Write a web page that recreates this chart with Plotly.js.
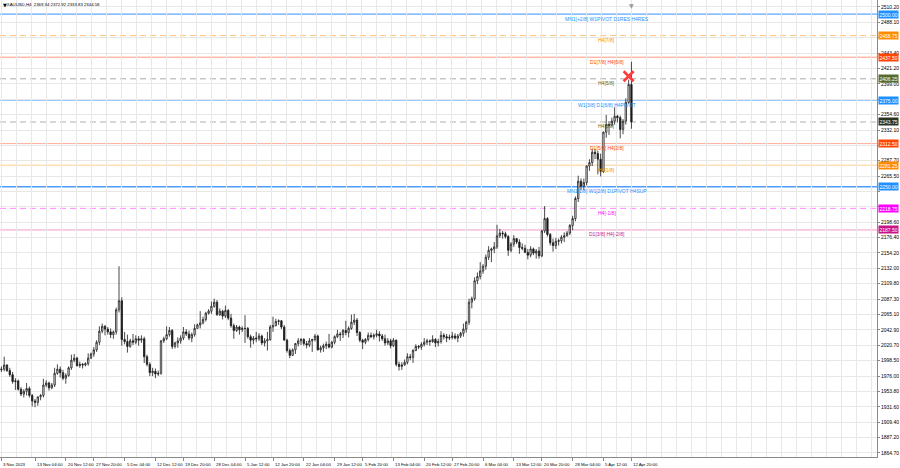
<!DOCTYPE html>
<html>
<head>
<meta charset="utf-8">
<script src="https://cdn.plot.ly/plotly-3.0.1.min.js"></script>
<style>html,body{margin:0;padding:0;background:#fff;}#chart{width:900px;height:468px;}</style>
</head>
<body>
<div id="chart"></div>
<script>
// XAUUSD H4 chart, candles aggregated to half-day bars (3 Nov 2023 .. 12 Apr 2024)
const openP = [
1985,1986,
1992,1984,1978,1968,1969,1957,1950,1954,1958,1948,
1940,1938,1946,1948,1963,1966,1959,1963,1980,1986,
1981,1973,1977,1988,1999,2002,1991,1993,1992,1994,
2002,2008,2014,2025,2041,2048,2044,2040,2036,2040,
2072,2085,2029,2026,2019,2027,2025,2030,2028,2030,
2004,1993,1981,1983,1979,1980,2027,2030,2036,2042,
2019,2024,2027,2031,2040,2037,2031,2036,2045,2050,
2053,2058,2067,2070,2077,2083,2065,2070,
2063,2071,2060,2049,2042,2047,2043,2045,
2045,2033,2028,2031,2030,2034,2024,2027,2029,2047,
2049,2055,2056,2047,2028,2013,2006,2014,2023,2027,
2029,2023,2021,2027,2029,2034,2014,2017,2020,2022,
2018,2025,2033,2037,2036,2042,2039,2045,2054,2057,
2039,2028,2025,2029,2035,2033,2035,2037,2034,2030,
2024,2027,2020,2028,1993,1990,1992,1996,2004,2003,
2013,2019,2018,2022,2025,2027,2026,2029,2024,2026,
2035,2033,2031,2032,2034,2031,2034,2038,2044,2054,
2083,2088,2114,2120,2128,2135,2148,2158,2160,2163,
2179,2183,2182,2178,2158,2167,2175,2170,2162,2161,
2155,2151,2160,2154,2157,2150,2186,2204,2181,2169,
2165,2171,2172,2177,2179,2183,2194,2204,
2233,2258,2251,2256,2280,2285,2300,2298,2290,2272,
2329,2340,2339,2345,2352,2350,2333,2345,2372,2398
];
const highP = [
1990,2004,
1993,1988,1982,1973,1971,1960,1957,1966,1961,1950,
1943,1946,1950,1972,1970,1968,1966,1988,1993,1990,
1985,1980,1990,2007,2008,2004,1997,1995,1996,2009,
2010,2018,2028,2048,2052,2050,2047,2045,2042,2075,
2135,2090,2040,2036,2030,2037,2035,2034,2035,2033,
2007,1996,1988,1987,1984,2028,2033,2048,2047,2044,
2026,2032,2035,2047,2044,2042,2039,2051,2052,2070,
2062,2069,2073,2084,2088,2086,2074,2072,
2078,2073,2066,2052,2050,2049,2048,2064,
2047,2036,2034,2040,2038,2036,2031,2040,2050,2062,
2059,2058,2057,2050,2030,2016,2016,2024,2031,2031,
2031,2027,2031,2030,2037,2036,2020,2023,2026,2037,
2027,2035,2043,2040,2044,2056,2048,2065,2066,2060,
2041,2030,2031,2039,2039,2038,2043,2041,2037,2036,
2031,2030,2031,2029,1997,1996,2000,2009,2008,2015,
2022,2021,2025,2031,2030,2029,2035,2031,2030,2041,
2038,2037,2036,2040,2038,2037,2040,2052,2056,2088,
2091,2119,2126,2141,2138,2152,2164,2162,2170,2195,
2189,2186,2185,2180,2170,2180,2175,2174,2168,2166,
2160,2164,2162,2160,2163,2188,2222,2206,2183,2175,
2176,2175,2180,2184,2186,2196,2208,2236,
2266,2262,2262,2281,2290,2305,2305,2302,2298,2330,
2354,2345,2350,2365,2354,2353,2348,2378,2405,2431
];
const lowP = [
1982,1983,
1982,1975,1965,1956,1955,1947,1945,1948,1945,1932,
1931,1933,1941,1945,1960,1955,1957,1960,1978,1974,
1970,1965,1975,1985,1996,1990,1988,1987,1990,1991,
2001,2004,2011,2021,2038,2035,2036,2031,2030,2036,
2068,2020,2022,2010,2017,2021,2022,2020,2024,1995,
1990,1976,1976,1973,1976,1978,2024,2028,2033,2015,
2016,2017,2023,2028,2034,2028,2025,2033,2045,2045,
2051,2055,2065,2066,2075,2063,2063,2058,
2060,2057,2046,2030,2040,2036,2040,2024,
2030,2017,2022,2025,2027,2021,2019,2013,2027,2040,
2048,2050,2044,2028,2010,2002,2005,2008,2019,2021,
2020,2016,2018,2011,2026,2013,2010,2011,2015,2016,
2016,2022,2031,2027,2031,2035,2032,2043,2050,2034,
2025,2015,2022,2026,2031,2029,2032,2026,2027,2020,
2021,2016,2018,1990,1984,1985,1991,1993,1999,1995,
2012,2015,2014,2019,2021,2020,2024,2018,2019,2023,
2029,2025,2028,2029,2029,2025,2031,2033,2039,2050,
2074,2085,2109,2116,2124,2130,2144,2141,2154,2160,
2176,2175,2175,2150,2155,2163,2167,2153,2158,2155,
2145,2148,2151,2146,2146,2148,2183,2178,2165,2156,
2160,2165,2168,2170,2178,2180,2187,2200,
2228,2245,2245,2252,2273,2280,2290,2268,2265,2270,
2321,2325,2337,2340,2343,2320,2326,2340,2370,2334
];
const closeP = [
1986,1992,
1984,1978,1968,1969,1957,1950,1954,1958,1948,1940,
1938,1946,1948,1963,1966,1959,1963,1980,1986,1981,
1973,1977,1988,1999,2002,1991,1993,1992,1994,2002,
2008,2014,2025,2041,2048,2044,2040,2036,2040,2072,
2085,2029,2026,2019,2027,2025,2030,2028,2030,2004,
1993,1981,1983,1979,1980,2027,2030,2036,2042,2019,
2024,2027,2031,2040,2037,2031,2036,2045,2050,2053,
2058,2067,2070,2077,2083,2065,2070,2063,
2071,2060,2049,2042,2047,2043,2045,2045,
2033,2028,2031,2030,2034,2024,2027,2029,2047,2049,
2055,2056,2047,2028,2013,2006,2014,2023,2027,2029,
2023,2021,2027,2029,2034,2014,2017,2020,2022,2018,
2025,2033,2037,2036,2042,2039,2045,2054,2057,2039,
2028,2025,2029,2035,2033,2035,2037,2034,2030,2024,
2027,2020,2028,1993,1990,1992,1996,2004,2003,2013,
2019,2018,2022,2025,2027,2026,2029,2024,2026,2035,
2033,2031,2032,2034,2031,2034,2038,2044,2054,2083,
2088,2114,2120,2128,2135,2148,2158,2160,2163,2179,
2183,2182,2178,2158,2167,2175,2170,2162,2161,2155,
2151,2160,2154,2157,2150,2186,2204,2181,2169,2165,
2171,2172,2177,2179,2183,2194,2204,2233,
2258,2251,2256,2280,2285,2300,2298,2290,2272,2329,
2340,2339,2345,2352,2350,2333,2345,2372,2398,2344
];

// time axis labels (bar index -> label)
const tickIdx  = [0,12,23,33,44,55,65,76,87,97,108,119,129,140,151,161,172,183,193,204,215,225];
const tickText = ["3 Nov 2023","13 Nov 04:00","20 Nov 12:00","27 Nov 20:00","5 Dec 04:00","12 Dec 12:00",
  "19 Dec 20:00","28 Dec 04:00","5 Jan 12:00","12 Jan 20:00","22 Jan 04:00","29 Jan 12:00",
  "5 Feb 20:00","13 Feb 04:00","20 Feb 12:00","27 Feb 20:00","6 Mar 04:00","13 Mar 12:00",
  "20 Mar 20:00","28 Mar 04:00","5 Apr 12:00","12 Apr 20:00"];

// price axis labels (the ones hidden behind level boxes carry no text)
const priceTicks = [2510.20,2488.10,2465.90,2443.40,2421.20,2399.00,2376.80,2354.60,2332.10,2309.90,
  2287.70,2265.50,2243.30,2221.10,2198.60,2176.40,2154.20,2132.00,2109.80,2087.30,2065.10,2042.90,
  2020.70,1998.50,1976.00,1953.80,1931.60,1909.40,1887.20,1864.70];
const hiddenTicks = [2465.90,2376.80,2309.90,2243.30,2221.10];

// Murrey / pivot levels
const levels = [2500.00,2468.75,2437.50,2406.25,2375.00,2343.75,2312.50,2281.25,2250.00,2218.75,2187.50];
const levelNames = ["MN1[+2/8] W1PIVOT D1RES H4RES","H4[7/8]","D1[7/8] H4[6/8]","H4[5/8]",
  "W1[3/8] D1[6/8] H4PIVOT","H4[3/8]","D1[5/8] H4[2/8]","H4[1/8]",
  "MN1[1/8] W1[2/8] D1PIVOT H4SUP","H4[-1/8]","D1[3/8] H4[-2/8]"];

// signal marker
const markIdx = [224];
const markPrice = [2410];

const titleText = "XAUUSD,H4  2369.34 2372.92 2333.83 2344.58";

// ---------- styles ----------
const lineStyle = [
  {color:'#5aa8ff', width:1.2, dash:'solid'},
  {color:'#ffc27a', width:1, dash:'6px,4px'},
  {color:'#ff9a80', width:1, dash:'solid'},
  {color:'#aaa9a0', width:1, dash:'6px,4px'},
  {color:'#8cc4ff', width:1, dash:'solid'},
  {color:'#b0b0ac', width:1, dash:'6px,4px'},
  {color:'#ffae98', width:1, dash:'solid'},
  {color:'#ffd090', width:1, dash:'solid'},
  {color:'#4a9cff', width:1.5, dash:'solid'},
  {color:'#ff88ff', width:1, dash:'6px,4px'},
  {color:'#f49ccc', width:1, dash:'solid'}
];
const textColor = ['#1e90ff','#ff8c00','#ff4500','#556b2f','#1e90ff','#556b2f','#ff4500','#ff8c00','#1e90ff','#ff00ff','#c71585'];
const boxColor  = ['#1e90ff','#ff8c00','#ff4500','#556b2f','#1e90ff','#2a3220','#ff4500','#ff8c00','#1e90ff','#ff00ff','#c71585'];

const FONT = 'Liberation Sans, Arial, sans-serif';
const xIdx = closeP.map((_, i) => i);

const candles = {
  type: 'candlestick',
  x: xIdx, open: openP, high: highP, low: lowP, close: closeP,
  increasing: {line: {color: '#1a1a1a', width: 0.8}, fillcolor: '#ffffff'},
  decreasing: {line: {color: '#1a1a1a', width: 0.8}, fillcolor: '#1a1a1a'},
  whiskerwidth: 0,
  hoverinfo: 'skip',
  showlegend: false
};

const marker = {
  type: 'scatter', mode: 'markers', x: markIdx, y: markPrice,
  marker: {symbol: 'x-thin', size: 10, color: '#ff3b3b', line: {color: '#ff3b3b', width: 2.6}},
  hoverinfo: 'skip', showlegend: false
};

const shapes = levels.map((lv, i) => ({
  type: 'line', xref: 'paper', x0: 0, x1: 1, yref: 'y', y0: lv, y1: lv,
  line: lineStyle[i], layer: 'below'
}));

const annotations = [];
levels.forEach((lv, i) => {
  annotations.push({
    xref: 'paper', x: 0.692, yref: 'y', y: lv, yshift: -4.5,
    text: levelNames[i], showarrow: false, xanchor: 'center', yanchor: 'middle',
    font: {family: FONT, size: 5, color: textColor[i]}
  });
  annotations.push({
    xref: 'paper', x: 1, xshift: 1, yref: 'y', y: lv,
    text: lv.toFixed(2), showarrow: false, xanchor: 'left', yanchor: 'middle',
    bgcolor: boxColor[i], borderpad: 0.5,
    font: {family: FONT, size: 5, color: '#ffffff'}
  });
});
tickIdx.forEach((t, i) => {
  annotations.push({
    xref: 'x', x: t, yref: 'paper', y: 0, yshift: -2.5,
    text: tickText[i], showarrow: false, xanchor: 'left', yanchor: 'top',
    font: {family: FONT, size: 4.3, color: '#000'}
  });
});
annotations.push({xref: 'paper', x: 0.001, yref: 'paper', y: 0.999, text: '▼', showarrow: false,
  xanchor: 'left', yanchor: 'top', font: {family: 'DejaVu Sans', size: 5, color: '#000'}});
annotations.push({xref: 'x', x: 225, yref: 'paper', y: 1.0, text: '▼', showarrow: false,
  xanchor: 'center', yanchor: 'top', font: {family: 'DejaVu Sans', size: 6, color: '#9a9a9a'}});

const layout = {
  width: 900, height: 468,
  margin: {l: 0, r: 23, t: 0, b: 11, pad: 0},
  paper_bgcolor: '#ffffff', plot_bgcolor: '#ffffff',
  showlegend: false,
  title: {text: titleText, x: 7/900, xanchor: 'left', xref: 'paper', y: 1 - 4/468, yanchor: 'middle',
          font: {family: FONT, size: 4.3, color: '#000'}},
  xaxis: {
    range: [-0.5, 312.7], fixedrange: true,
    rangeslider: {visible: false},
    tickvals: tickIdx, showticklabels: false,
    ticks: 'outside', ticklen: 3, tickcolor: '#888', tickwidth: 1,
    showgrid: false, zeroline: false,
    showline: true, linecolor: '#8a8a8a', linewidth: 1, mirror: true,
    minor: {dtick: 5.357, tick0: 0, showgrid: true, gridcolor: '#e8e8e8', gridwidth: 1, ticks: ''}
  },
  yaxis: {
    side: 'right', range: [1858.9, 2520.3], fixedrange: true,
    tickvals: priceTicks,
    ticktext: priceTicks.map(v => hiddenTicks.includes(v) ? '' : v.toFixed(2)),
    tickfont: {family: FONT, size: 5, color: '#000'},
    ticks: 'outside', ticklen: 2, tickcolor: '#888',
    showgrid: true, gridcolor: '#e8e8e8', gridwidth: 1, zeroline: false,
    showline: true, linecolor: '#8a8a8a', linewidth: 1, mirror: true
  },
  shapes: shapes,
  annotations: annotations,
  hovermode: false
};

Plotly.newPlot('chart', [candles, marker], layout, {displayModeBar: false, staticPlot: true});
</script>
</body>
</html>
